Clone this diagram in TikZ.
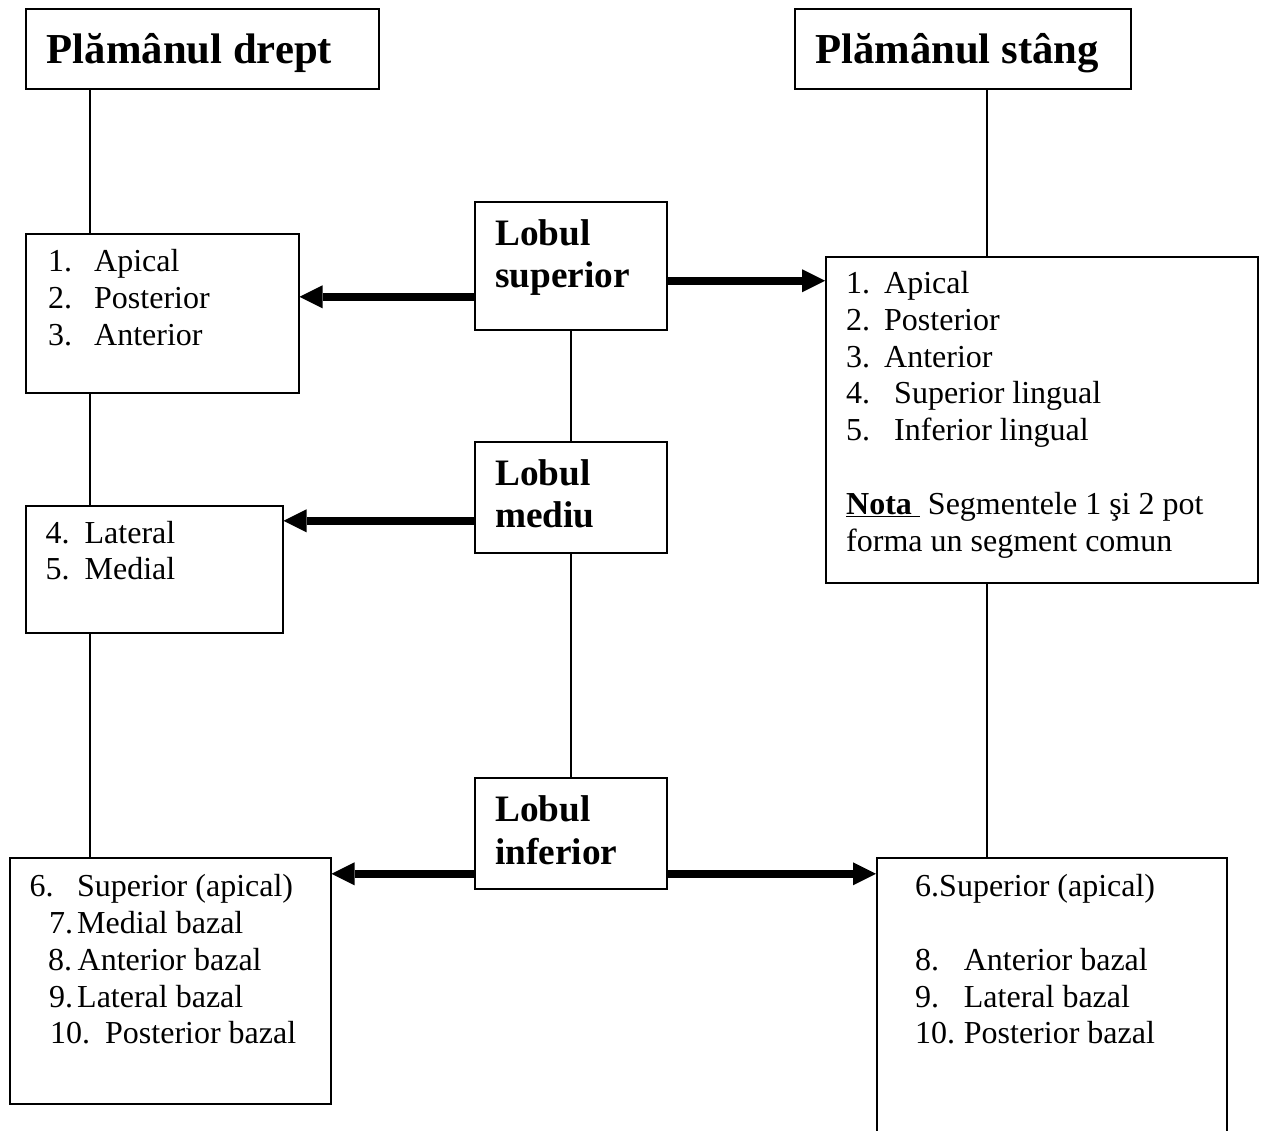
\documentclass[tikz,border=0pt]{standalone}
\usepackage{fontspec}
\setmainfont{Liberation Serif}
\usetikzlibrary{arrows.meta}
\tikzset{
  box/.style={draw, line width=1.5pt, inner sep=0pt, anchor=north west},
  txt/.style={inner sep=0pt, anchor=base west},
  link/.style={line width=1.5pt},
  bigarrow/.style={-{Triangle[length=23pt, width=23pt, line width=0pt]}, line width=7.5pt},
}
\newcommand{\bodyfont}{\fontsize{32}{36.8}\selectfont}
\newcommand{\lobfont}{\fontsize{37.3}{42.9}\selectfont\bfseries}
\newcommand{\headfont}{\fontsize{42.7}{49}\selectfont\bfseries}
\newcommand{\seg}[3]{\makebox[#1][l]{#2}#3}

\begin{document}
\begin{tikzpicture}[x=1pt, y=-1pt]
  \useasboundingbox (0,0) rectangle (1265,1130);
  \clip (0,0) rectangle (1265,1130);

  % Headings
  \node[box, minimum width=353pt, minimum height=80pt] (pd) at (25,8) {};
  \node[txt, font=\headfont] (pd-t) at ([xshift=21.7pt, yshift=-55.3pt]pd.north west) {Plămânul drept};
  \node[box, minimum width=336pt, minimum height=80pt] (ps) at (794,8) {};
  \node[txt, font=\headfont] (ps-t) at ([xshift=21pt, yshift=-55.3pt]ps.north west) {Plămânul stâng};

  % Lobes in the middle
  \node[box, minimum width=192pt, minimum height=128pt] (lobsup) at (474,201) {};
  \node[txt, font=\lobfont] (lobsup-t) at ([xshift=21pt, yshift=-44pt]lobsup.north west)
    {\begin{tabular}[t]{@{}l@{}}Lobul\\ superior\end{tabular}};
  \node[box, minimum width=192pt, minimum height=111pt] (lobmed) at (474,441) {};
  \node[txt, font=\lobfont] (lobmed-t) at ([xshift=21pt, yshift=-44pt]lobmed.north west)
    {\begin{tabular}[t]{@{}l@{}}Lobul\\ mediu\end{tabular}};
  \node[box, minimum width=192pt, minimum height=111pt] (lobinf) at (474,777) {};
  \node[txt, font=\lobfont] (lobinf-t) at ([xshift=21pt, yshift=-44.7pt]lobinf.north west)
    {\begin{tabular}[t]{@{}l@{}}Lobul\\ inferior\end{tabular}};

  % Right lung (left column)
  \node[box, minimum width=273pt, minimum height=159pt] (lsup) at (25,233) {};
  \node[txt, font=\bodyfont] (lsup-t) at ([xshift=23pt, yshift=-38.7pt]lsup.north west)
    {\begin{tabular}[t]{@{}l@{}}
      \seg{46pt}{1.}{Apical}\\
      \seg{46pt}{2.}{Posterior}\\
      \seg{46pt}{3.}{Anterior}
    \end{tabular}};
  \node[box, minimum width=257pt, minimum height=127pt] (lmid) at (25,505) {};
  \node[txt, font=\bodyfont] (lmid-t) at ([xshift=20.5pt, yshift=-38pt]lmid.north west)
    {\begin{tabular}[t]{@{}l@{}}
      \seg{39pt}{4.}{Lateral}\\
      \seg{39pt}{5.}{Medial}
    \end{tabular}};
  \node[box, minimum width=321pt, minimum height=246pt] (linf) at (9,857) {};
  \node[txt, font=\bodyfont] (linf-t) at ([xshift=20.5pt, yshift=-39.7pt]linf.north west)
    {\begin{tabular}[t]{@{}l@{}}
      \seg{47.5pt}{6.}{Superior (apical)}\\
      \hspace{19.5pt}\seg{28pt}{7.}{Medial bazal}\\
      \hspace{18.5pt}\seg{29.5pt}{8.}{Anterior bazal}\\
      \hspace{19.5pt}\seg{28pt}{9.}{Lateral bazal}\\
      \hspace{20.5pt}\seg{55pt}{10.}{Posterior bazal}
    \end{tabular}};

  % Left lung (right column)
  \node[box, minimum width=432pt, minimum height=326pt] (rsup) at (825,256) {};
  \node[txt, font=\bodyfont] (rsup-t) at ([xshift=21pt, yshift=-37.5pt]rsup.north west)
    {\begin{tabular}[t]{@{}l@{}}
      \seg{38pt}{1.}{Apical}\\
      \seg{38pt}{2.}{Posterior}\\
      \seg{38pt}{3.}{Anterior}\\
      \seg{48pt}{4.}{Superior lingual}\\
      \seg{48pt}{5.}{Inferior lingual}\\
      \\
      \underline{\textbf{Nota}\ }\ Segmentele 1 şi 2 pot\\
      forma un segment comun
    \end{tabular}};
  \node[box, minimum width=350pt, minimum height=300pt] (rinf) at (876,857) {};
  \node[txt, font=\bodyfont] (rinf-t) at ([xshift=39pt, yshift=-39.7pt]rinf.north west)
    {\begin{tabular}[t]{@{}l@{}}
      6.Superior (apical)\\
      \\
      \seg{48.7pt}{8.}{Anterior bazal}\\
      \seg{48.7pt}{9.}{Lateral bazal}\\
      \seg{48.7pt}{10.}{Posterior bazal}
    \end{tabular}};

  % Spines
  \coordinate (lspine) at (90,0);
  \coordinate (rspine) at (987,0);
  \draw[link] (pd.south -| lspine) -- (lsup.north -| lspine);
  \draw[link] (lsup.south -| lspine) -- (lmid.north -| lspine);
  \draw[link] (lmid.south -| lspine) -- (linf.north -| lspine);
  \draw[link] (ps.south -| rspine) -- (rsup.north -| rspine);
  \draw[link] (rsup.south -| rspine) -- (rinf.north -| rspine);
  \draw[link] (lobsup.south) -- (lobmed.north);
  \draw[link] (lobmed.south) -- (lobinf.north);

  % Thick arrows
  \coordinate (a1) at ([yshift=-31pt]lobsup.west);
  \coordinate (a2) at ([yshift=-15pt]lobsup.east);
  \coordinate (a3) at ([yshift=-23.5pt]lobmed.west);
  \coordinate (a4) at ([yshift=-40.5pt]lobinf.west);
  \coordinate (a5) at ([yshift=-40.5pt]lobinf.east);
  \draw[bigarrow] (a1) -- (a1 -| lsup.east);
  \draw[bigarrow] (a2) -- (a2 -| rsup.west);
  \draw[bigarrow] (a3) -- (a3 -| lmid.east);
  \draw[bigarrow] (a4) -- (a4 -| linf.east);
  \draw[bigarrow] (a5) -- (a5 -| rinf.west);
\end{tikzpicture}
\end{document}
